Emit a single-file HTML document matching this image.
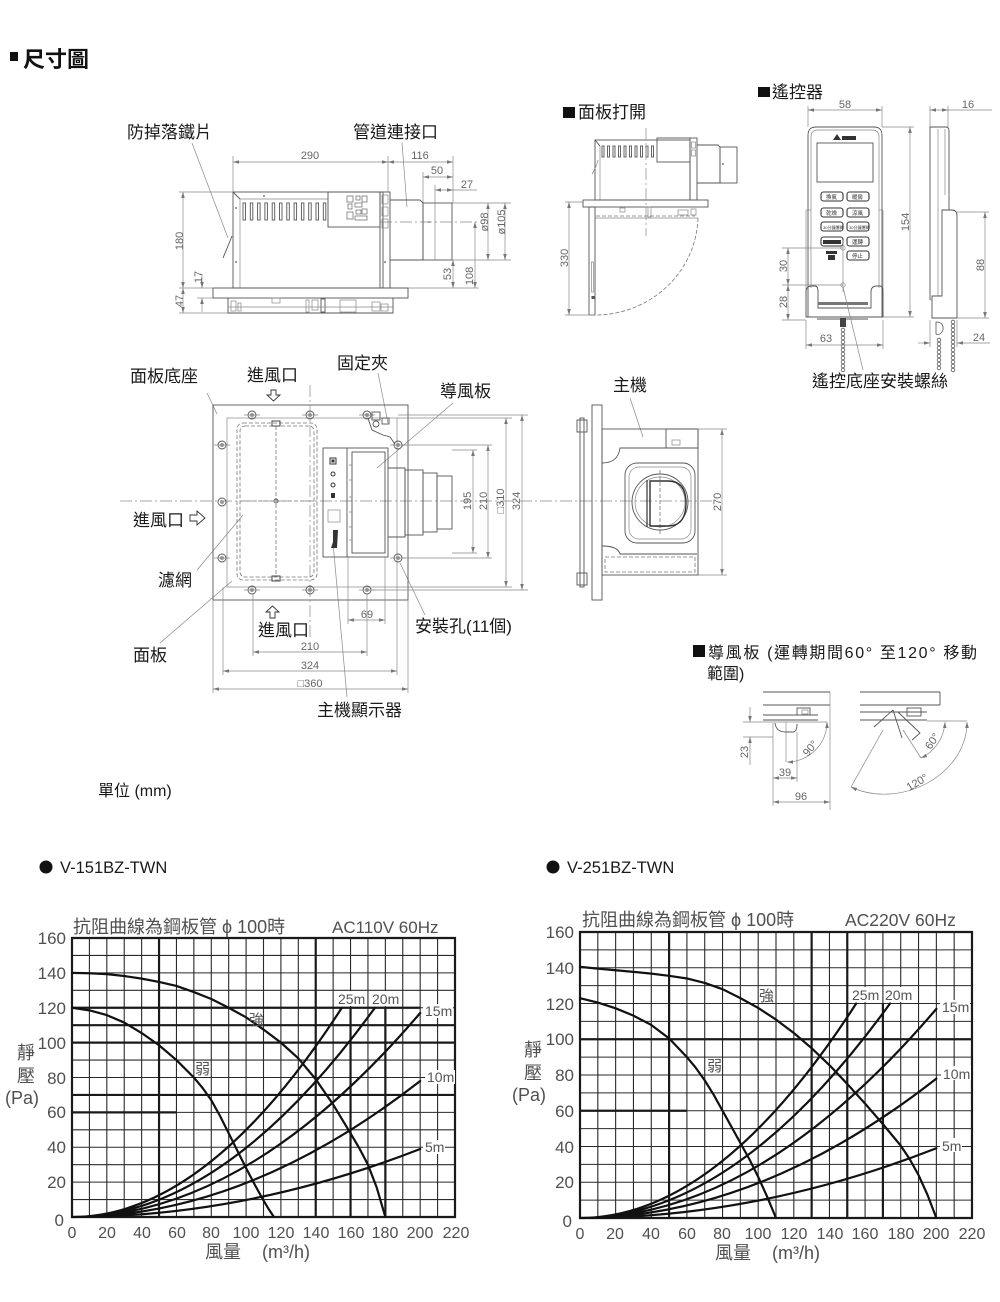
<!DOCTYPE html>
<html><head><meta charset="utf-8"><title>尺寸圖</title>
<style>
html,body{margin:0;padding:0;background:#fff;width:1000px;height:1302px;overflow:hidden}
svg{display:block}
text{font-family:"Liberation Sans","Noto Sans CJK TC",sans-serif}
.lb{font-size:17px;fill:#1a1a1a}
.dm{font-size:11px;fill:#666}
.o{stroke:#555;stroke-width:.9;fill:none}
.t{stroke:#888;stroke-width:.7;fill:none}
.d{stroke:#888;stroke-width:.7;fill:none;marker-start:url(#ar);marker-end:url(#ar)}
.de{marker-end:url(#ar)}
.c{stroke:#888;stroke-width:.7;fill:none;stroke-dasharray:12 3 2 3}
.ds{stroke:#777;stroke-width:.8;fill:none;stroke-dasharray:4 2}
.ct{font-size:17px;fill:#505050}
.cs{font-size:14px;fill:#555}
.g{stroke:#2a2a2a;stroke-width:1.1;fill:none;vector-effect:non-scaling-stroke}
.gk{stroke:#1a1a1a;stroke-width:2.2;fill:none;vector-effect:non-scaling-stroke}
.cv{stroke:#111;stroke-width:2.2;fill:none;stroke-linejoin:round;stroke-linecap:round;vector-effect:non-scaling-stroke}
.bt{fill:none;stroke:#333;stroke-width:1.1}
.bx{font-size:5.5px;fill:#333}
</style></head><body>
<svg width="1000" height="1302" viewBox="0 0 1000 1302" xmlns="http://www.w3.org/2000/svg">
<defs>
<marker id="ar" viewBox="0 0 10 6" refX="10" refY="3" markerUnits="userSpaceOnUse" markerWidth="6" markerHeight="3.6" orient="auto-start-reverse"><path d="M0,0L10,3L0,6z" fill="#777"/></marker>
</defs>

<!-- header -->
<rect x="10" y="52" width="8" height="9" fill="#111"/>
<text x="23" y="67" style="font-size:22px;fill:#111;font-weight:bold">尺寸圖</text>

<!-- ============ side view ============ -->
<text class="lb" x="127" y="138">防掉落鐵片</text>
<text class="lb" x="353" y="138">管道連接口</text>
<line class="t" x1="192" y1="143" x2="228" y2="238"/>
<line class="t" x1="402" y1="143" x2="407" y2="207"/>

<line class="t" x1="233" y1="156" x2="233" y2="192"/>
<line class="t" x1="388" y1="156" x2="388" y2="192"/>
<line class="t" x1="453" y1="156" x2="453" y2="203"/>
<line class="t" x1="423" y1="172" x2="423" y2="203"/>
<line class="t" x1="435" y1="185" x2="435" y2="203"/>
<line class="d" x1="233" y1="162" x2="388" y2="162"/>
<line class="d" x1="388" y1="162" x2="453" y2="162"/>
<line class="d" x1="423" y1="177" x2="453" y2="177"/>
<line class="d" x1="435" y1="190" x2="453" y2="190"/>
<line class="t" x1="453" y1="190" x2="477" y2="190"/>
<text class="dm" x="310" y="159" text-anchor="middle">290</text>
<text class="dm" x="420" y="159" text-anchor="middle">116</text>
<text class="dm" x="437" y="174" text-anchor="middle">50</text>
<text class="dm" x="467" y="188" text-anchor="middle">27</text>

<rect class="o" x="233" y="192" width="150" height="96"/>
<line class="o" x1="233" y1="192" x2="240" y2="199"/>
<line class="t" x1="240" y1="199" x2="240" y2="288"/>
<line class="t" x1="240" y1="199" x2="328" y2="199"/>
<g class="o">
<rect x="243" y="203" width="2.5" height="17"/><rect x="250.3" y="203" width="2.5" height="17"/><rect x="257.6" y="203" width="2.5" height="17"/><rect x="264.9" y="203" width="2.5" height="17"/><rect x="272.2" y="203" width="2.5" height="17"/><rect x="279.5" y="203" width="2.5" height="17"/><rect x="286.8" y="203" width="2.5" height="17"/><rect x="294.1" y="203" width="2.5" height="17"/><rect x="301.4" y="203" width="2.5" height="17"/><rect x="308.7" y="203" width="2.5" height="17"/><rect x="316" y="203" width="2.5" height="17"/><rect x="323.3" y="203" width="2.5" height="17"/>
</g>
<rect class="o" x="328" y="192" width="52" height="35"/>
<g fill="none" stroke="#777" stroke-width=".8">
<rect x="347" y="196" width="6" height="6"/><rect x="356" y="196" width="4" height="4"/><rect x="362" y="196" width="5" height="6"/>
<rect x="348" y="204" width="4" height="5"/><rect x="355" y="203" width="7" height="4"/><rect x="347" y="212" width="6" height="7"/>
<rect x="356" y="210" width="5" height="4"/><rect x="362" y="209" width="5" height="5"/><rect x="355" y="216" width="12" height="4"/>
</g>
<rect class="o" x="380" y="192" width="10" height="96"/>
<rect class="t" x="382" y="195" width="6" height="9"/><rect class="t" x="382" y="207" width="6" height="9"/><rect class="t" x="382" y="219" width="6" height="9"/>
<circle cx="236" cy="208" r="0.9" fill="#555"/><circle cx="236" cy="262" r="0.9" fill="#555"/><circle cx="385" cy="262" r="0.9" fill="#555"/><circle cx="264" cy="196" r="0.9" fill="#555"/>
<path class="o" d="M232,236 Q228,246 223,258"/>

<path class="o" d="M390,200 L420,200 L423,203 L423,260 L390,260"/>
<rect class="o" x="423" y="203" width="29" height="57"/>
<line class="t" x1="435" y1="203" x2="435" y2="260"/>
<circle cx="429" cy="222" r="0.9" fill="#555"/>
<line class="c" x1="380" y1="222" x2="480" y2="222"/>

<line class="t" x1="452" y1="203" x2="511" y2="203"/>
<line class="t" x1="452" y1="260" x2="511" y2="260"/>
<line class="d" x1="488" y1="203" x2="488" y2="260"/>
<line class="d" x1="505" y1="203" x2="505" y2="260"/>
<line class="d" x1="453" y1="260" x2="453" y2="288"/>
<line class="d" x1="475" y1="222" x2="475" y2="288"/>
<line class="t" x1="390" y1="288" x2="479" y2="288"/>
<text class="dm" transform="translate(484,222) rotate(-90)" y="4" text-anchor="middle">ø98</text>
<text class="dm" transform="translate(501,222) rotate(-90)" y="4" text-anchor="middle">ø105</text>
<text class="dm" transform="translate(447,274) rotate(-90)" y="4" text-anchor="middle">53</text>
<text class="dm" transform="translate(469,276) rotate(-90)" y="4" text-anchor="middle">108</text>

<rect class="o" x="213" y="288" width="195" height="10"/>
<path class="o" d="M228,298 L228,313 L393,313 L393,298"/>
<rect class="t" x="231" y="301" width="5" height="10"/>
<rect class="t" x="238" y="303" width="3" height="8"/>
<rect class="t" x="272" y="298" width="8" height="5"/>
<rect class="t" x="306" y="300" width="3" height="12"/>
<rect class="t" x="312" y="300" width="6" height="10"/>
<rect class="o" x="321" y="299" width="4" height="13"/>
<rect class="t" x="340" y="300" width="16" height="12"/>
<rect class="t" x="372" y="302" width="8" height="9"/>
<rect class="t" x="381" y="304" width="7" height="7"/>
<line class="t" x1="228" y1="307" x2="393" y2="307"/>

<line class="t" x1="179" y1="192" x2="233" y2="192"/>
<line class="t" x1="179" y1="288" x2="213" y2="288"/>
<line class="t" x1="197" y1="298" x2="213" y2="298"/>
<line class="t" x1="179" y1="313" x2="228" y2="313"/>
<line class="d" x1="183" y1="192" x2="183" y2="288"/>
<line class="d" x1="183" y1="288" x2="183" y2="313"/>
<line class="t de" x1="202" y1="274" x2="202" y2="288"/>
<line class="t de" x1="202" y1="312" x2="202" y2="298"/>
<text class="dm" transform="translate(179,241) rotate(-90)" y="4" text-anchor="middle">180</text>
<text class="dm" transform="translate(179,301) rotate(-90)" y="4" text-anchor="middle">47</text>
<text class="dm" transform="translate(198,277) rotate(-90)" y="4" text-anchor="middle">17</text>

<!-- ============ 面板打開 ============ -->
<rect x="563" y="107" width="12" height="11" fill="#111"/>
<text class="lb" x="578" y="118">面板打開</text>
<rect class="o" x="595" y="140" width="95" height="60"/>
<line class="o" x1="595" y1="140" x2="600" y2="146"/>
<line class="t" x1="600" y1="146" x2="600" y2="200"/>
<g class="o">
<rect x="602" y="146" width="2" height="11"/><rect x="607.5" y="146" width="2" height="11"/><rect x="613" y="146" width="2" height="11"/><rect x="618.5" y="146" width="2" height="11"/><rect x="624" y="146" width="2" height="11"/><rect x="629.5" y="146" width="2" height="11"/><rect x="635" y="146" width="2" height="11"/><rect x="640.5" y="146" width="2" height="11"/><rect x="646" y="146" width="2" height="11"/><rect x="651.5" y="146" width="2" height="11"/>
</g>
<rect class="o" x="657" y="138" width="33" height="24"/>
<rect class="o" x="690" y="138" width="7" height="62"/>
<rect class="t" x="691.5" y="142" width="4" height="6"/><rect class="t" x="691.5" y="150" width="4" height="6"/>
<path class="o" d="M697,145 L718,145 L720,147 L720,183 L697,183"/>
<rect class="o" x="720" y="147" width="17" height="36"/>
<circle cx="723" cy="164" r="0.9" fill="#555"/>
<path class="t" d="M598,160 Q596,168 592,174"/>
<rect class="o" x="583" y="200" width="125" height="7"/>
<line class="t" x1="595" y1="218" x2="698" y2="218"/>
<rect class="t" x="620" y="208" width="5" height="4"/>
<rect class="t" x="648" y="207" width="3" height="10"/>
<rect class="t" x="678" y="210" width="10" height="5"/>
<rect class="t" x="691" y="209" width="5" height="6"/>
<line class="ds" x1="596" y1="216" x2="695" y2="216"/>
<rect class="o" x="589" y="207" width="6" height="108"/>
<rect class="t" x="591.5" y="262" width="2" height="30"/>
<rect x="591.5" y="296" width="3" height="3" fill="#555"/>
<path class="ds" d="M698,218 A103,100 0 0 1 597,315"/>
<line class="c" x1="646" y1="128" x2="646" y2="236"/>
<line class="t" x1="565" y1="202" x2="583" y2="202"/>
<line class="t" x1="565" y1="315" x2="595" y2="315"/>
<line class="d" x1="569" y1="202" x2="569" y2="315"/>
<text class="dm" transform="translate(564,258) rotate(-90)" y="4" text-anchor="middle">330</text>

<!-- ============ remote ============ -->
<rect x="758" y="87" width="12" height="10" fill="#111"/>
<text class="lb" x="772" y="98">遙控器</text>
<path class="o" d="M808,317 L808,135 Q808,127 816,127 L874,127 Q882,127 882,135 L882,317"/>
<path class="t" d="M811,288 L811,137 Q811,130 818,130 L872,130 Q879,130 879,137 L879,288"/>
<polygon points="833,140 837,134 841,140" fill="#333"/>
<rect x="842" y="136" width="14" height="4" fill="#333"/>
<rect class="o" x="817" y="143" width="56" height="39"/>
<rect class="bt" x="821" y="192" width="22" height="9" rx="2.5"/><rect class="bt" x="847" y="192" width="22" height="9" rx="2.5"/>
<rect class="bt" x="821" y="208" width="22" height="9" rx="2.5"/><rect class="bt" x="847" y="208" width="22" height="9" rx="2.5"/>
<rect class="bt" x="821" y="222" width="22" height="9" rx="2.5"/><rect class="bt" x="847" y="222" width="22" height="9" rx="2.5"/>
<rect class="bt" x="821" y="237" width="22" height="9" rx="2.5"/><rect class="bt" x="847" y="237" width="22" height="9" rx="2.5"/>
<rect class="bt" x="847" y="251" width="22" height="9" rx="2.5"/>
<text class="bx" x="826" y="199">換氣</text><text class="bx" x="852" y="199">暖房</text>
<text class="bx" x="826" y="215">乾燥</text><text class="bx" x="852" y="215">涼風</text>
<text class="bx" x="823" y="229" style="font-size:4px">30分鐘運轉</text><text class="bx" x="849" y="229" style="font-size:4px">30分鐘運轉</text>
<rect x="823" y="240" width="18" height="4" fill="#333"/><text class="bx" x="852" y="244">運轉</text>
<text class="bx" x="852" y="258">停止</text>
<rect x="826" y="251" width="11" height="3" fill="#333"/><rect x="828" y="255" width="7" height="5" fill="#333"/>
<circle class="t" cx="843" cy="248" r="2.2"/><circle class="t" cx="843" cy="285" r="2.2"/>
<line class="t" x1="843" y1="240" x2="843" y2="292"/>
<line class="t" x1="806" y1="210" x2="806" y2="317"/>
<line class="t" x1="883" y1="210" x2="883" y2="317"/>
<line class="t" x1="806" y1="210" x2="811" y2="210"/><line class="t" x1="879" y1="210" x2="883" y2="210"/>
<path class="o" d="M806,317 L806,292 Q806,286 812,286 L815,286 Q818,286 818,292 L818,308 L871,308 L871,292 Q871,286 877,286 L880,286 Q883,286 883,292 L883,317 Z"/>
<rect x="818" y="302" width="50" height="3" fill="#777"/>
<line class="o" x1="817" y1="319" x2="868" y2="319"/>
<rect x="840" y="318" width="6" height="9" fill="#444"/>
<g fill="none" stroke="#555" stroke-width=".8">
<circle cx="843" cy="330" r="1.8"/><circle cx="843" cy="334" r="1.8"/><circle cx="843" cy="338" r="1.8"/><circle cx="843" cy="342" r="1.8"/><circle cx="843" cy="346" r="1.8"/><circle cx="843" cy="350" r="1.8"/><circle cx="843" cy="354" r="1.8"/><circle cx="843" cy="358" r="1.8"/><circle cx="843" cy="362" r="1.8"/><circle cx="843" cy="366" r="1.8"/><circle cx="843" cy="370" r="1.8"/>
</g>
<line class="t" x1="808" y1="106" x2="808" y2="127"/><line class="t" x1="882" y1="106" x2="882" y2="127"/>
<line class="d" x1="808" y1="110" x2="882" y2="110"/>
<text class="dm" x="845" y="108" text-anchor="middle">58</text>
<line class="t" x1="882" y1="127" x2="914" y2="127"/><line class="t" x1="883" y1="317" x2="914" y2="317"/>
<line class="d" x1="910" y1="127" x2="910" y2="317"/>
<text class="dm" transform="translate(905,222) rotate(-90)" y="4" text-anchor="middle">154</text>
<line class="t" x1="782" y1="248" x2="843" y2="248"/><line class="t" x1="782" y1="285" x2="843" y2="285"/><line class="t" x1="782" y1="320" x2="806" y2="320"/>
<line class="d" x1="788" y1="248" x2="788" y2="285"/>
<line class="d" x1="788" y1="285" x2="788" y2="320"/>
<text class="dm" transform="translate(783,266) rotate(-90)" y="4" text-anchor="middle">30</text>
<text class="dm" transform="translate(783,302) rotate(-90)" y="4" text-anchor="middle">28</text>
<line class="t" x1="806" y1="320" x2="806" y2="349"/><line class="t" x1="883" y1="320" x2="883" y2="349"/>
<line class="d" x1="806" y1="345" x2="883" y2="345"/>
<text class="dm" x="826" y="342" text-anchor="middle">63</text>

<!-- side of remote -->
<path class="o" d="M930,300 L930,127 L946,127 Q949,127 949,131 L949,210"/>
<line class="t" x1="938" y1="129" x2="938" y2="296"/>
<line class="t" x1="945" y1="129" x2="945" y2="195"/>
<path class="o" d="M942,210 L952,210 Q957,210 957,216 L957,318 L932,318 L932,296 L942,296 Z"/>
<line class="t" x1="930" y1="300" x2="932" y2="300"/>
<line class="t" x1="930" y1="106" x2="930" y2="127"/><line class="t" x1="948" y1="106" x2="948" y2="127"/>
<line class="d" x1="930" y1="110" x2="948" y2="110"/>
<line class="t" x1="948" y1="110" x2="992" y2="110"/>
<text class="dm" x="968" y="108" text-anchor="middle">16</text>
<line class="t" x1="957" y1="212" x2="989" y2="212"/><line class="t" x1="957" y1="318" x2="989" y2="318"/>
<line class="d" x1="985" y1="212" x2="985" y2="318"/>
<text class="dm" transform="translate(980,265) rotate(-90)" y="4" text-anchor="middle">88</text>
<line class="t" x1="930" y1="320" x2="930" y2="347"/><line class="t" x1="957" y1="320" x2="957" y2="347"/>
<line class="t de" x1="918" y1="343" x2="930" y2="343"/>
<line class="t de" x1="990" y1="343" x2="957" y2="343"/>
<text class="dm" x="979" y="341" text-anchor="middle">24</text>
<g fill="none" stroke="#555" stroke-width=".8">
<path d="M936,322 Q944,322 943,330 Q940,336 936,334 Z"/>
<circle cx="939" cy="340" r="1.8"/><circle cx="939" cy="344" r="1.8"/><circle cx="939" cy="348" r="1.8"/><circle cx="939" cy="352" r="1.8"/><circle cx="939" cy="356" r="1.8"/><circle cx="939" cy="360" r="1.8"/><circle cx="939" cy="364" r="1.8"/><circle cx="939" cy="368" r="1.8"/>
<circle cx="953" cy="322" r="1.8"/><circle cx="953" cy="326" r="1.8"/><circle cx="953" cy="330" r="1.8"/><circle cx="953" cy="334" r="1.8"/><circle cx="953" cy="338" r="1.8"/><circle cx="953" cy="342" r="1.8"/><circle cx="953" cy="346" r="1.8"/><circle cx="953" cy="350" r="1.8"/><circle cx="953" cy="354" r="1.8"/><circle cx="953" cy="358" r="1.8"/><circle cx="953" cy="362" r="1.8"/><circle cx="953" cy="366" r="1.8"/><circle cx="953" cy="370" r="1.8"/>
</g>
<text class="lb" x="812" y="387">遙控底座安裝螺絲</text>
<line class="t" x1="863" y1="370" x2="843" y2="287"/>

<!-- ============ top view ============ -->
<text class="lb" x="130" y="382">面板底座</text>
<text class="lb" x="247" y="381">進風口</text>
<polygon points="271,390 276,390 276,395 280,395 273.5,401 267,395 271,395" fill="#fff" stroke="#333" stroke-width=".9"/>
<text class="lb" x="337" y="369">固定夾</text>
<text class="lb" x="440" y="397">導風板</text>
<text class="lb" x="133" y="526">進風口</text>
<polygon points="190,515 197,515 197,511 205,518 197,525 197,521 190,521" fill="#fff" stroke="#333" stroke-width=".9"/>
<text class="lb" x="158" y="586">濾網</text>
<text class="lb" x="133" y="661">面板</text>
<text class="lb" x="258" y="636">進風口</text>
<polygon points="270,618 275,618 275,612 279,612 272.5,606 266,612 270,612" fill="#fff" stroke="#333" stroke-width=".9"/>
<text class="lb" x="415" y="632">安裝孔(11個)</text>
<text class="lb" x="317" y="716">主機顯示器</text>

<line class="t" x1="207" y1="393" x2="217" y2="414"/>
<line class="t" x1="197" y1="570" x2="243" y2="515"/>
<line class="t" x1="160" y1="643" x2="232" y2="581"/>
<line class="t" x1="378" y1="373" x2="388" y2="423"/>
<line class="t" x1="453" y1="403" x2="377" y2="468"/>
<line class="t" x1="425" y1="615" x2="400" y2="563"/>
<line class="t" x1="347" y1="697" x2="333" y2="543"/>

<rect class="o" x="213" y="405" width="195" height="195"/>
<rect class="t" x="227" y="418" width="170" height="169"/>
<rect class="ds" x="237" y="423" width="80" height="157" rx="6"/>
<rect class="ds" x="240" y="426" width="74" height="151" rx="5"/>
<line class="ds" x1="276" y1="426" x2="276" y2="577"/>
<line class="ds" x1="240" y1="501" x2="314" y2="501"/>
<rect x="272" y="421" width="8" height="5" fill="none" stroke="#444" stroke-width="1"/>
<rect x="272" y="576" width="8" height="5" fill="none" stroke="#444" stroke-width="1"/>
<circle cx="276" cy="501" r="2" class="o"/>

<line class="c" x1="120" y1="501" x2="712" y2="501"/>
<line class="c" x1="310" y1="385" x2="310" y2="640"/>

<g>
<g class="o">
<circle cx="252" cy="415" r="4"/><circle cx="310" cy="415" r="4"/><circle cx="367" cy="415" r="4"/>
<circle cx="222" cy="445" r="4"/><circle cx="222" cy="502" r="4"/><circle cx="222" cy="558" r="4"/>
<circle cx="252" cy="590" r="4"/><circle cx="310" cy="590" r="4"/><circle cx="367" cy="590" r="4"/>
<circle cx="398" cy="445" r="4"/><circle cx="398" cy="558" r="4"/>
</g>
<g fill="#999"><circle cx="252" cy="415" r="2"/><circle cx="310" cy="415" r="2"/><circle cx="367" cy="415" r="2"/><circle cx="222" cy="445" r="2"/><circle cx="222" cy="502" r="2"/><circle cx="222" cy="558" r="2"/><circle cx="252" cy="590" r="2"/><circle cx="310" cy="590" r="2"/><circle cx="367" cy="590" r="2"/><circle cx="398" cy="445" r="2"/><circle cx="398" cy="558" r="2"/></g>
<path class="t" d="M244,415H260M302,415H318M359,415H375M214,445H230M214,558H230M244,590H260M302,590H318M359,590H375M390,445H406M390,558H406"/>
</g>

<rect class="o" x="323" y="448" width="65" height="109"/>
<line class="o" x1="347" y1="448" x2="347" y2="557"/>
<rect class="o" x="352" y="452" width="33" height="101"/>
<path class="t" d="M349,465h3M349,480h3M349,497h3M349,512h3M349,527h3M349,540h3"/>
<rect x="330" y="458" width="6" height="6" fill="none" stroke="#333"/>
<rect x="331.5" y="459.5" width="3" height="3" fill="#333"/>
<circle cx="333" cy="474" r="2" fill="none" stroke="#333"/>
<circle cx="333" cy="485" r="2" fill="none" stroke="#333"/>
<rect x="331" y="493" width="4" height="5" fill="#333"/>
<rect class="t" x="328" y="510" width="12" height="12"/>
<polygon points="333,530 338,530 337,548 331,548 333,542" fill="#333"/>

<path class="o" d="M388,468 L405,468 L405,537 L388,537"/>
<rect class="o" x="405" y="470" width="18" height="65"/>
<rect class="o" x="423" y="473" width="14" height="59"/>
<rect class="o" x="437" y="476" width="15" height="53"/>

<rect class="o" x="372" y="412" width="8" height="8"/>
<circle class="o" cx="376" cy="424" r="3"/>
<rect class="o" x="382" y="418" width="7" height="6"/>
<polyline class="o" points="368,418 372,430 383,435 390,437 395,444"/>

<line class="t" x1="398" y1="415" x2="528" y2="415"/>
<line class="t" x1="397" y1="418" x2="512" y2="418"/>
<line class="t" x1="402" y1="445" x2="492" y2="445"/>
<line class="t" x1="452" y1="450" x2="477" y2="450"/>
<line class="t" x1="452" y1="553" x2="477" y2="553"/>
<line class="t" x1="402" y1="558" x2="492" y2="558"/>
<line class="t" x1="397" y1="587" x2="512" y2="587"/>
<line class="t" x1="372" y1="590" x2="528" y2="590"/>
<line class="d" x1="473" y1="450" x2="473" y2="553"/>
<line class="d" x1="488" y1="445" x2="488" y2="558"/>
<line class="d" x1="506" y1="418" x2="506" y2="587"/>
<line class="d" x1="522" y1="415" x2="522" y2="590"/>
<text class="dm" transform="translate(467,501) rotate(-90)" y="4" text-anchor="middle">195</text>
<text class="dm" transform="translate(483,501) rotate(-90)" y="4" text-anchor="middle">210</text>
<text class="dm" transform="translate(500,501) rotate(-90)" y="4" text-anchor="middle">□310</text>
<text class="dm" transform="translate(516,501) rotate(-90)" y="4" text-anchor="middle">324</text>

<line class="t" x1="348" y1="557" x2="348" y2="624"/><line class="t" x1="385" y1="557" x2="385" y2="624"/>
<line class="t" x1="253" y1="594" x2="253" y2="656"/><line class="t" x1="367" y1="594" x2="367" y2="656"/>
<line class="t" x1="223" y1="587" x2="223" y2="675"/><line class="t" x1="397" y1="587" x2="397" y2="675"/>
<line class="t" x1="213" y1="600" x2="213" y2="693"/><line class="t" x1="408" y1="600" x2="408" y2="693"/>
<line class="d" x1="348" y1="620" x2="385" y2="620"/>
<line class="d" x1="253" y1="652" x2="367" y2="652"/>
<line class="d" x1="223" y1="671" x2="397" y2="671"/>
<line class="d" x1="213" y1="689" x2="408" y2="689"/>
<text class="dm" x="367" y="618" text-anchor="middle">69</text>
<text class="dm" x="310" y="650" text-anchor="middle">210</text>
<text class="dm" x="310" y="669" text-anchor="middle">324</text>
<text class="dm" x="310" y="687" text-anchor="middle">□360</text>

<!-- ============ main unit view ============ -->
<text class="lb" x="613" y="391">主機</text>
<line class="t" x1="630" y1="398" x2="643" y2="437"/>
<rect class="o" x="580" y="418" width="4" height="169"/>
<rect class="o" x="577" y="420" width="10" height="12"/>
<rect class="o" x="577" y="573" width="10" height="12"/>
<rect class="o" x="592" y="405" width="10" height="195"/>
<rect class="o" x="602" y="429" width="96" height="146"/>
<rect class="o" x="666" y="429" width="32" height="19"/>
<rect class="t" x="672" y="440" width="8" height="5"/>
<path class="o" d="M602,463 Q618,463 620,448 L697,448"/>
<path class="o" d="M602,546 Q618,546 620,554 L697,554"/>
<rect class="ds" x="605" y="557" width="90" height="15"/>
<rect class="o" x="625" y="463" width="70" height="80" rx="12"/>
<rect class="t" x="629" y="467" width="62" height="72" rx="10"/>
<circle class="o" cx="660" cy="502" r="28"/>
<circle class="t" cx="660" cy="502" r="25"/>
<line class="ds" x1="660" y1="470" x2="660" y2="535"/>
<path d="M650,481 L668,481 Q686,481 686,503 Q686,526 668,526 L650,526 Z" fill="none" stroke="#333" stroke-width="1.4"/>
<line x1="647" y1="480" x2="647" y2="527" stroke="#333" stroke-width="1.2"/>
<line class="t" x1="698" y1="429" x2="727" y2="429"/>
<line class="t" x1="698" y1="575" x2="727" y2="575"/>
<line class="d" x1="722" y1="429" x2="722" y2="575"/>
<text class="dm" transform="translate(717,502) rotate(-90)" y="4" text-anchor="middle">270</text>

<!-- ============ 導風板 ============ -->
<rect x="693" y="645" width="12" height="12" fill="#111"/>
<text class="lb" x="708" y="658" style="font-size:16px" textLength="269" lengthAdjust="spacing">導風板 (運轉期間60° 至120° 移動</text>
<text class="lb" x="707" y="679" style="font-size:16px">範圍)</text>

<line class="o" x1="763" y1="692" x2="830" y2="692"/>
<line class="o" x1="763" y1="705" x2="830" y2="705"/>
<line class="t" x1="830" y1="692" x2="830" y2="810"/>
<line class="o" x1="763" y1="715" x2="818" y2="715"/>
<line class="o" x1="763" y1="720" x2="818" y2="720"/>
<rect class="o" x="797" y="708" width="13" height="7"/>
<rect class="t" x="802" y="710" width="6" height="4"/>
<line class="t" x1="743" y1="722" x2="827" y2="722"/>
<path class="o" d="M775,723 Q776,732 786,732 L793,732 Q797,732 797,724"/>
<line class="t" x1="773" y1="723" x2="773" y2="806"/>
<line class="t" x1="786" y1="722" x2="786" y2="762"/>
<line class="t" x1="797" y1="732" x2="797" y2="782"/>
<path class="d" d="M827,722 A40,40 0 0 1 787,762"/>
<text class="dm" transform="translate(810,748) rotate(-50)" y="4" text-anchor="middle">90°</text>
<line class="t" x1="743" y1="737" x2="773" y2="737"/>
<line class="t de" x1="750" y1="707" x2="750" y2="722"/>
<line class="t de" x1="750" y1="765" x2="750" y2="737"/>
<text class="dm" transform="translate(744,752) rotate(-90)" y="4" text-anchor="middle">23</text>
<line class="d" x1="773" y1="778" x2="797" y2="778"/>
<text class="dm" x="785" y="776" text-anchor="middle">39</text>
<line class="d" x1="773" y1="802" x2="830" y2="802"/>
<text class="dm" x="801" y="800" text-anchor="middle">96</text>

<line class="o" x1="860" y1="692" x2="940" y2="692"/>
<line class="o" x1="860" y1="705" x2="940" y2="705"/>
<line class="o" x1="940" y1="692" x2="940" y2="705"/>
<line class="o" x1="860" y1="712" x2="927" y2="712"/>
<line class="o" x1="860" y1="720" x2="927" y2="720"/>
<rect class="o" x="907" y="708" width="14" height="8"/>
<line class="t" x1="927" y1="721" x2="967" y2="721"/>
<path class="o" d="M893,710 L874,727 M893,710 L902,738 M898,712 L920,733 L912,740"/>
<line class="t" x1="903" y1="730" x2="921" y2="758"/>
<line class="t" x1="883" y1="730" x2="851" y2="787"/>
<path class="d" d="M945,722 A42,42 0 0 1 921,758"/>
<path class="d" d="M967,722 C967,775 900,810 851,787"/>
<text class="dm" transform="translate(932,741) rotate(-55)" y="4" text-anchor="middle">60°</text>
<text class="dm" transform="translate(917,782) rotate(-30)" y="4" text-anchor="middle">120°</text>

<!-- ============ footnotes ============ -->
<text x="98" y="796" style="font-size:16px;fill:#1a1a1a">單位 (mm)</text>
<circle cx="46" cy="867" r="6.5" fill="#111"/>
<text x="60" y="873" style="font-size:16.5px;fill:#1a1a1a">V-151BZ-TWN</text>
<circle cx="553" cy="867" r="6.5" fill="#111"/>
<text x="567" y="873" style="font-size:16.5px;fill:#1a1a1a">V-251BZ-TWN</text>

<!-- ============ chart left ============ -->
<g transform="translate(72,1217) scale(1.7409,-1.74375)">
<path class="g" d="M10 0V160M20 0V160M30 0V160M40 0V160M50 0V160M60 0V160M70 0V160M80 0V160M90 0V160M100 0V160M110 0V160M120 0V160M130 0V160M140 0V160M150 0V160M160 0V160M170 0V160M180 0V160M190 0V160M200 0V160M210 0V160M0 10H220M0 20H220M0 30H220M0 40H220M0 50H220M0 60H220M0 70H220M0 80H220M0 90H220M0 100H220M0 110H220M0 120H220M0 130H220M0 140H220M0 150H220"/>
<path class="gk" d="M50 0V160M140 0V160M160 0V120M180 0V120M0 120H200M0 110H220M0 100H220M0 70H220M0 60H60"/>
<rect class="gk" x="0" y="0" width="220" height="160"/>
<path class="cv" d="M0 0Q77.5 0 155 120M0 0Q87 0 174 120M0 0Q100 0 200 117M0 0Q100 0 200 78M0 0Q100 0 200 39"/>
<polyline class="cv" points="0,140 10,139.8 20,139.3 30,138.2 40,136.7 50,134.8 60,132.5 70,129 80,125 90,120 100,114.5 110,107.5 120,100 130,91 140,79 150,64.5 160,48 165,39.5 170,30 175,17 180,0"/>
<polyline class="cv" points="0,120 10,118.5 20,115.8 30,111.5 40,105.5 50,98.5 60,90 70,80 75,74 80,67 85,58 90,48 95,38 100,28 105,18.5 110,9.5 113,4.5 116,0"/>
</g>
<g fill="#fff">
<rect x="336" y="991" width="29" height="15"/><rect x="370" y="991" width="29" height="15"/>
<rect x="423" y="1004" width="30" height="14"/><rect x="425" y="1070" width="30" height="14"/><rect x="423" y="1140" width="22" height="14"/>
</g>
<text class="cs" x="338" y="1004">25m</text>
<text class="cs" x="372" y="1004">20m</text>
<text class="cs" x="425" y="1016">15m</text>
<text class="cs" x="427" y="1082">10m</text>
<text class="cs" x="425" y="1152">5m</text>
<text class="cs" x="249" y="1025" style="font-size:15px">強</text>
<text class="cs" x="195" y="1074" style="font-size:15px">弱</text>
<text class="ct" x="73" y="933" style="font-size:18px">抗阻曲線為鋼板管 ϕ 100時</text>
<text class="ct" x="332" y="933">AC110V 60Hz</text>
<g class="ct" text-anchor="end">
<text x="66" y="944">160</text><text x="66" y="979">140</text><text x="66" y="1014">120</text><text x="66" y="1049">100</text><text x="66" y="1084">80</text><text x="66" y="1118">60</text><text x="66" y="1153">40</text><text x="66" y="1188">20</text><text x="64" y="1226">0</text>
</g>
<g class="ct" text-anchor="middle" style="font-size:16px">
<text x="72" y="1238">0</text><text x="107" y="1238">20</text><text x="142" y="1238">40</text><text x="177" y="1238">60</text><text x="211" y="1238">80</text><text x="246" y="1238">100</text><text x="281" y="1238">120</text><text x="316" y="1238">140</text><text x="351" y="1238">160</text><text x="385" y="1238">180</text><text x="420" y="1238">200</text><text x="456" y="1238">220</text>
</g>
<text class="ct" x="205" y="1258" style="font-size:18px">風量</text>
<text class="ct" x="262" y="1258" style="font-size:18px">(m³/h)</text>
<text class="ct" x="17" y="1059" style="font-size:18px">靜</text>
<text class="ct" x="17" y="1082" style="font-size:18px">壓</text>
<text class="ct" x="5" y="1104" style="font-size:18px">(Pa)</text>

<!-- ============ chart right ============ -->
<g transform="translate(580,1218) scale(1.7818,-1.7875)">
<path class="g" d="M10 0V160M20 0V160M30 0V160M40 0V160M50 0V160M60 0V160M70 0V160M80 0V160M90 0V160M100 0V160M110 0V160M120 0V160M130 0V160M140 0V160M150 0V160M160 0V160M170 0V160M180 0V160M190 0V160M200 0V160M210 0V160M0 10H220M0 20H220M0 30H220M0 40H220M0 50H220M0 60H220M0 70H220M0 80H220M0 90H220M0 100H220M0 110H220M0 120H220M0 130H220M0 140H220M0 150H220"/>
<path class="gk" d="M50 0V160M130 0V160M150 0V160M170 0V120M0 100H220M0 60H60"/>
<rect class="gk" x="0" y="0" width="220" height="160"/>
<path class="cv" d="M0 0Q77.5 0 155 120M0 0Q87 0 174 120M0 0Q100 0 200 117M0 0Q100 0 200 78M0 0Q100 0 200 39"/>
<polyline class="cv" points="0,140.5 10,139.5 20,138.6 30,137.7 40,136.7 50,135.5 60,134 70,131.5 80,128 90,123 100,117.5 110,111 120,103.5 130,95 140,85.5 150,75 160,64 170,52.5 175,46.5 180,40.5 185,33 190,24 195,13 200,0"/>
<polyline class="cv" points="0,123 10,120.5 20,117.3 30,113.2 40,108 50,100.5 60,90 65,84 70,77 75,69 80,60 85,51 90,42 95,33 100,23 105,12 110,0"/>
</g>
<g fill="#fff">
<rect x="851" y="987" width="29" height="15"/><rect x="884" y="987" width="29" height="15"/>
<rect x="940" y="1000" width="30" height="14"/><rect x="941" y="1066" width="30" height="14"/><rect x="940" y="1138" width="22" height="14"/>
</g>
<text class="cs" x="852" y="1000">25m</text>
<text class="cs" x="885" y="1000">20m</text>
<text class="cs" x="942" y="1012">15m</text>
<text class="cs" x="943" y="1079">10m</text>
<text class="cs" x="942" y="1151">5m</text>
<text class="cs" x="759" y="1001" style="font-size:15px">強</text>
<text class="cs" x="707" y="1071" style="font-size:15px">弱</text>
<text class="ct" x="582" y="926" style="font-size:18px">抗阻曲線為鋼板管 ϕ 100時</text>
<text class="ct" x="845" y="926" style="font-size:17.5px">AC220V 60Hz</text>
<g class="ct" text-anchor="end">
<text x="574" y="938">160</text><text x="574" y="974">140</text><text x="574" y="1010">120</text><text x="574" y="1045">100</text><text x="574" y="1081">80</text><text x="574" y="1117">60</text><text x="574" y="1153">40</text><text x="574" y="1188">20</text><text x="572" y="1227">0</text>
</g>
<g class="ct" text-anchor="middle" style="font-size:16px">
<text x="580" y="1239">0</text><text x="615" y="1239">20</text><text x="651" y="1239">40</text><text x="687" y="1239">60</text><text x="722" y="1239">80</text><text x="758" y="1239">100</text><text x="794" y="1239">120</text><text x="830" y="1239">140</text><text x="865" y="1239">160</text><text x="901" y="1239">180</text><text x="936" y="1239">200</text><text x="972" y="1239">220</text>
</g>
<text class="ct" x="715" y="1259" style="font-size:18px">風量</text>
<text class="ct" x="772" y="1259" style="font-size:18px">(m³/h)</text>
<text class="ct" x="524" y="1056" style="font-size:18px">靜</text>
<text class="ct" x="524" y="1079" style="font-size:18px">壓</text>
<text class="ct" x="512" y="1101" style="font-size:18px">(Pa)</text>
</svg>
</body></html>
